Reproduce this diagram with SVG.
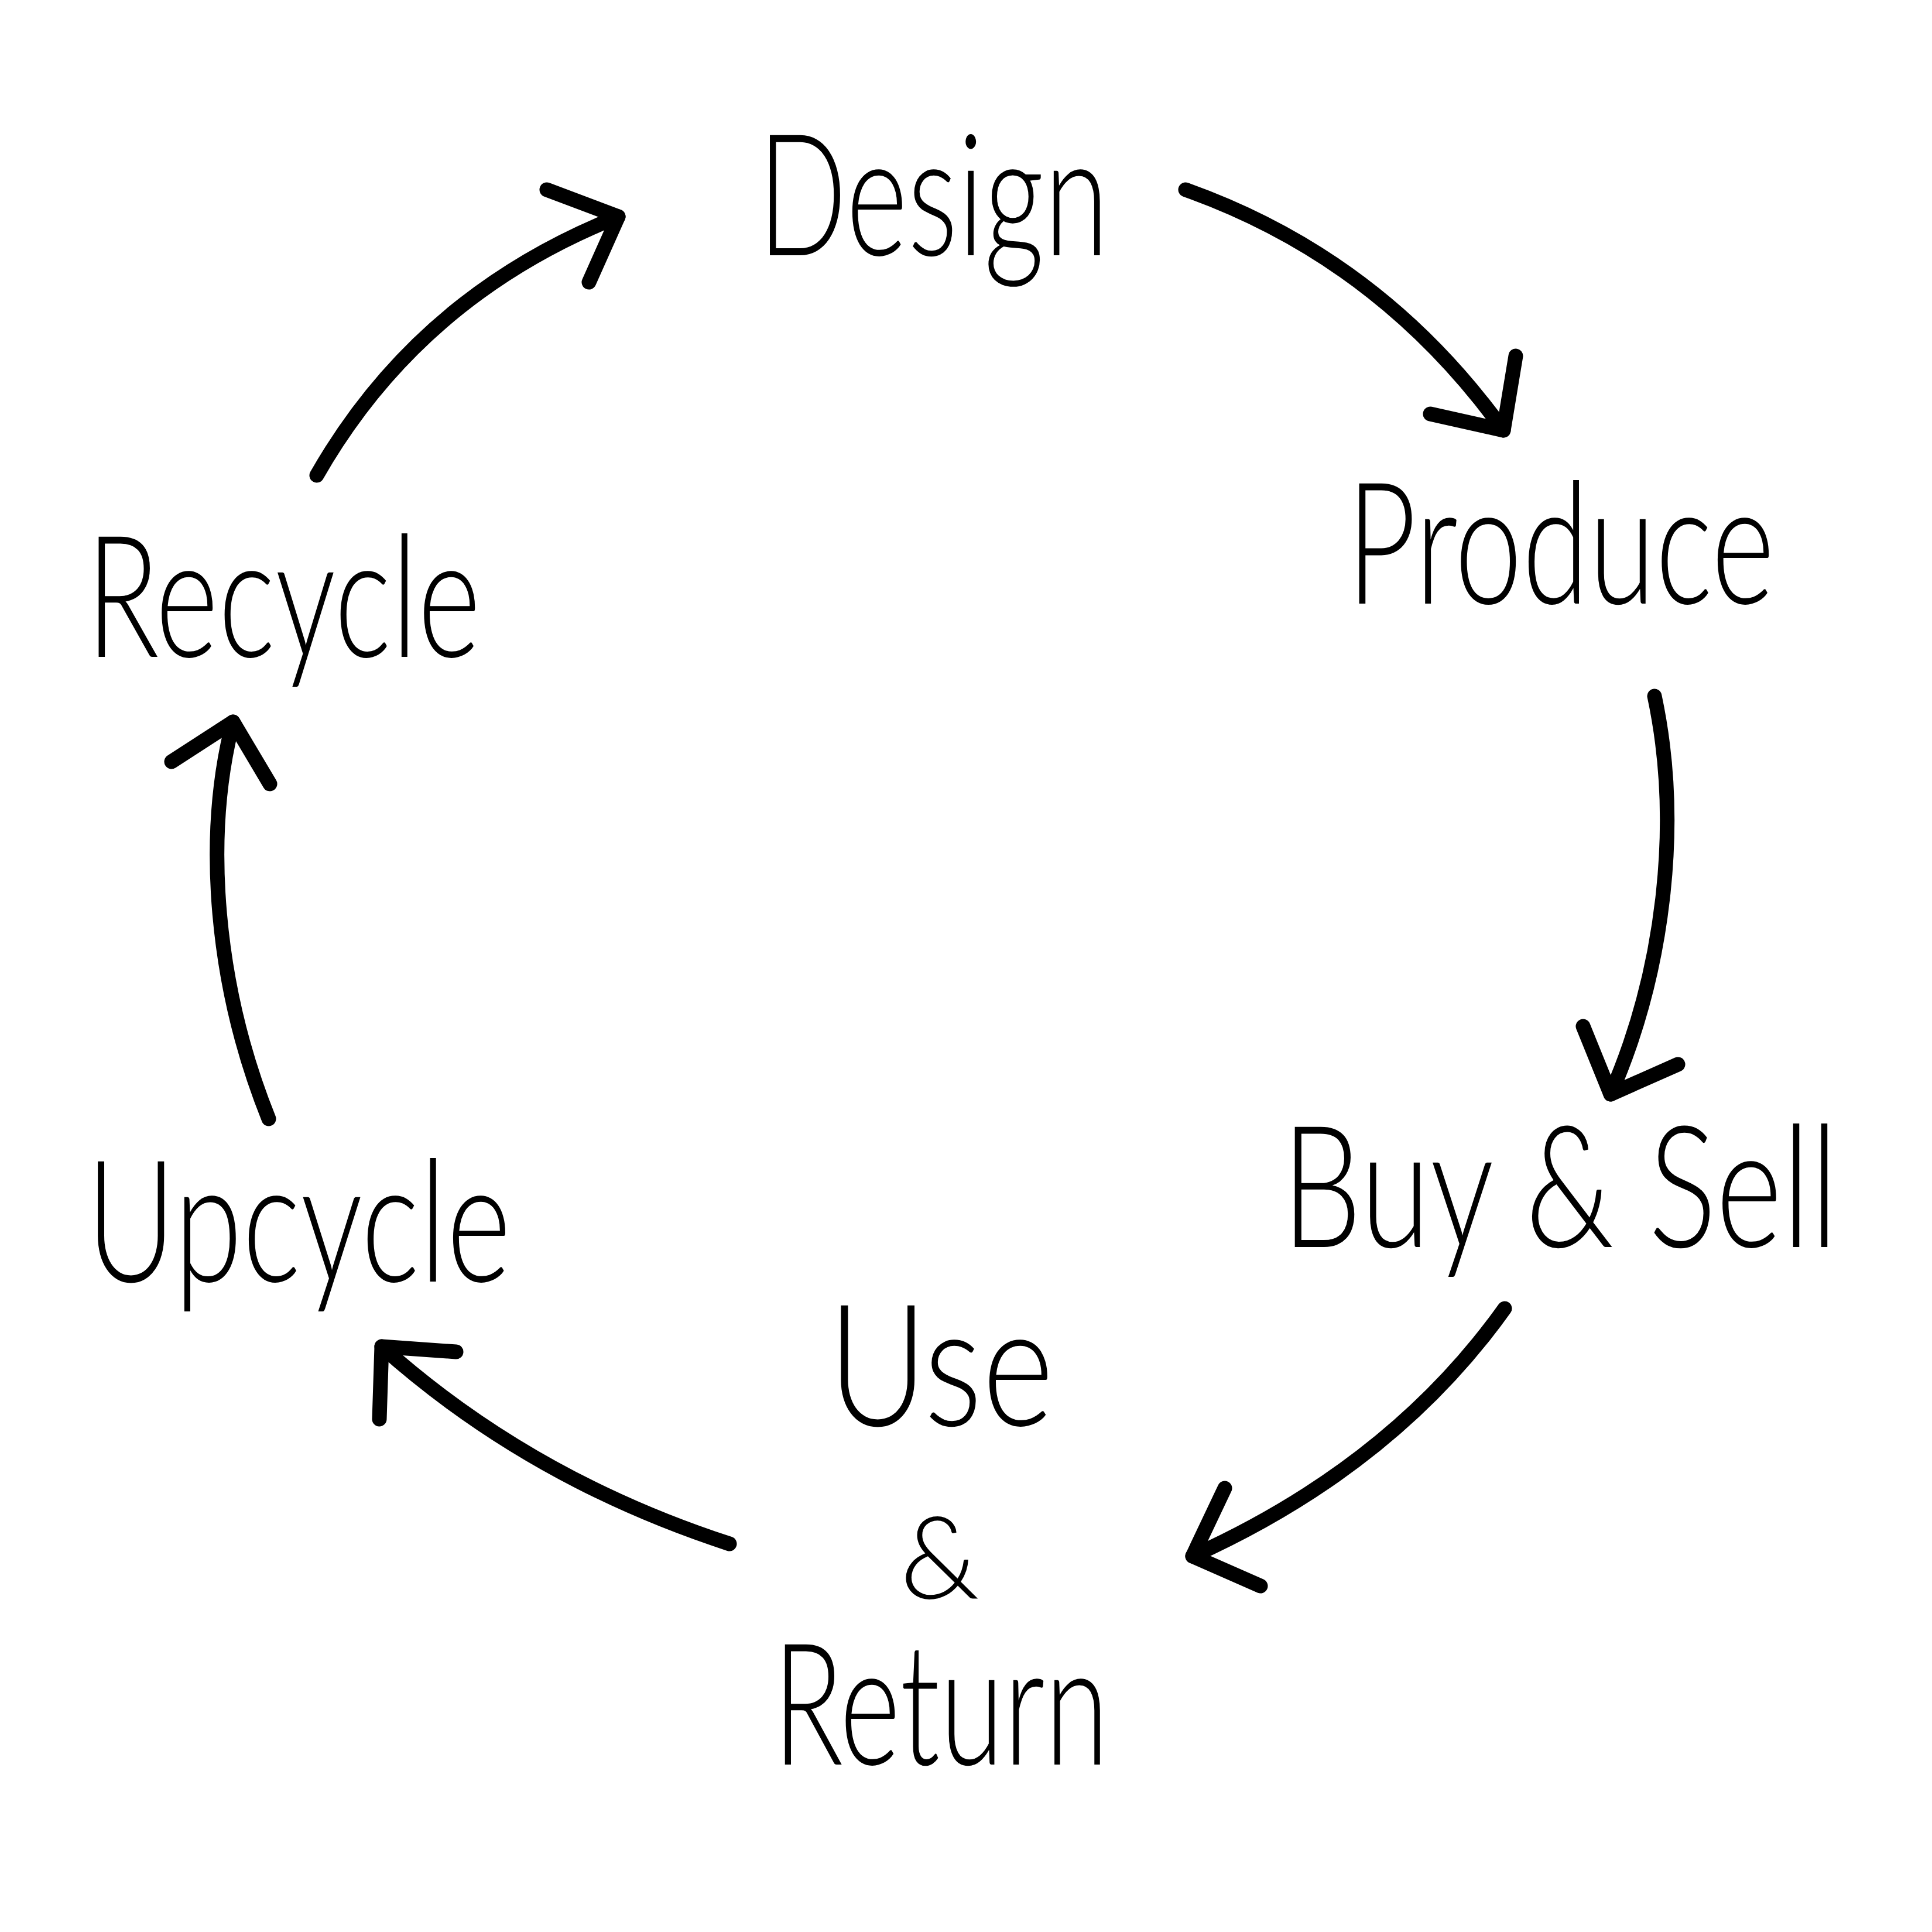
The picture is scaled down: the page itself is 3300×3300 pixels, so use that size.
<svg xmlns="http://www.w3.org/2000/svg" width="3300" height="3300" viewBox="0 0 3300 3300">
<style>
.lbl{font-family:Lato,"Liberation Sans",sans-serif;font-weight:300;font-size:290px;fill:#000}
.amp{font-family:Lato,"Liberation Sans",sans-serif;font-weight:300;font-size:195px;fill:#000}
.arr{fill:none;stroke:#000;stroke-width:25;stroke-linecap:round;stroke-linejoin:round}
</style>
<rect width="3300" height="3300" fill="#fff"/>
<g id="connectors">
<g id="c1"><path class="arr" d="M541,812 Q716,505 1056,370"/><path class="arr" d="M934,324 L1056,370 L1006,482"/></g>
<g id="c2"><path class="arr" d="M2025,324 Q2357,442 2568,735"/><path class="arr" d="M2443,707 L2568,735 L2589,608"/></g>
<g id="c3"><path class="arr" d="M2826,1189 C2873,1410 2841,1663 2751,1869"/><path class="arr" d="M2704,1753 L2751,1869 L2866,1818"/></g>
<g id="c4"><path class="arr" d="M2570,2235 Q2378,2504 2037,2658"/><path class="arr" d="M2092,2542 L2037,2658 L2153,2709"/></g>
<g id="c5"><path class="arr" d="M1246,2637 Q905,2526 652,2300"/><path class="arr" d="M779,2309 L652,2300 L648,2424"/></g>
<g id="c6"><path class="arr" d="M459,1911 C368,1684 347,1431 398,1233"/><path class="arr" d="M293,1301 L398,1233 L461,1339"/></g>
</g>
<g id="design"><text class="lbl" x="1294" y="436" textLength="600" lengthAdjust="spacingAndGlyphs">Design</text></g>
<g id="produce"><text class="lbl" x="2300" y="1031" textLength="731" lengthAdjust="spacingAndGlyphs">Produce</text></g>
<g id="buysell"><text class="lbl" x="2189" y="2130" textLength="951" lengthAdjust="spacingAndGlyphs">Buy &amp; Sell</text></g>
<g id="usereturn">
<text class="lbl" x="1414" y="2435" textLength="386" lengthAdjust="spacingAndGlyphs">Use</text>
<text class="amp" x="1605" y="2730" text-anchor="middle">&amp;</text>
<text class="lbl" x="1320" y="3014" textLength="574" lengthAdjust="spacingAndGlyphs">Return</text>
</g>
<g id="upcycle"><text class="lbl" x="147" y="2189" textLength="726" lengthAdjust="spacingAndGlyphs">Upcycle</text></g>
<g id="recycle"><text class="lbl" x="147" y="1122" textLength="674" lengthAdjust="spacingAndGlyphs">Recycle</text></g>
</svg>
